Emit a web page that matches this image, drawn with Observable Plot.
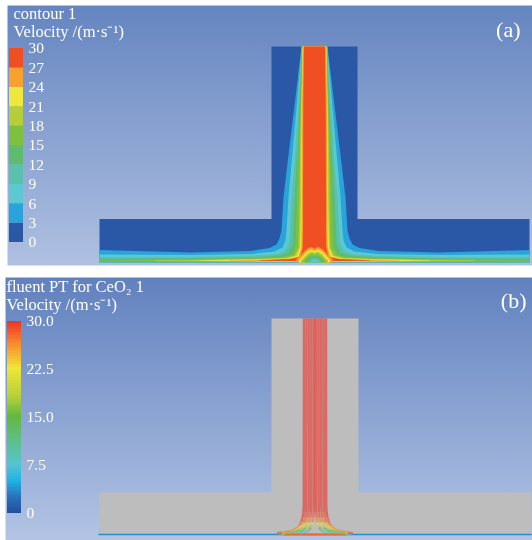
<!DOCTYPE html>
<html>
<head>
<meta charset="utf-8">
<script src="https://cdn.jsdelivr.net/npm/d3@7"></script>
<script src="https://cdn.jsdelivr.net/npm/@observablehq/plot@0.6"></script>
<style>
html,body{margin:0;padding:0;background:#fff;width:532px;height:540px;overflow:hidden}
.panel{position:relative;width:532px;height:270px}
.panel svg{position:absolute;left:0;top:0;background:transparent}
</style>
</head>
<body>
<div id="a" class="panel"></div>
<div id="b" class="panel"></div>
<script>
// Velocity scale
const contourTicks = [0,3,6,9,12,15,18,21,24,27,30];
const contourColors = ["#2b58a6","#29a3dc","#5cc8d0","#58c2ac","#5fbb6e","#7fc13f","#b5ce3a","#eee83c","#f9a02d","#f04e23"];
const gradientTicks = [0,7.5,15,22.5,30];
const gradientStops = [0,2.5,5,7.5,11,15,18,22.5,26,30];
const gradientColors = ["#22509f","#2a74bc","#1fb4e6","#55c4cf","#5dbf8e","#62b93e","#b4cf3a","#efe636","#f8932c","#ee2f24"];

// Fluid domain outlines: distance from jet axis, height above plate
const domainR = [-43,43,43,215,215,-215,-215,-43];
const domainH = [216,216,43.5,43.5,0,0,43.5,43.5];
const meshR = [-43.5,43.5,43.5,216,216,-216,-216,-43.5];
const meshH = [216,216,42,42,0,0,42,42];

// Contour band outlines [r, h]: from nozzle, along the wall jet upper side
const upper3  = [[13,216],[19,165],[23,132],[27,99],[31,65],[33,32],[35,24],[38,18],[45,14.5],[64,11.5],[124,10],[215,12.5]];
const upper6  = [[12.8,216],[17,165],[20,132],[23,99],[26,65],[28,32],[29,22],[32,15],[40,11],[64,8.5],[124,7.5],[215,8]];
const upper9  = [[12.6,216],[15.5,165],[18,132],[20,99],[23,65],[24.5,32],[25.5,20],[29,12],[36,8.5],[64,6.5],[124,5.5],[215,5.5]];
const upper12 = [[12.4,216],[14.5,165],[16,132],[18,99],[20,65],[21.5,32],[22,18],[26,10],[34,7],[64,5],[124,4],[215,3.5]];
const upper15 = [[12.2,216],[13.8,165],[15,132],[16,99],[17.5,65],[18.5,32],[19,16],[23,8],[32,5.5],[64,4],[124,3],[190,2.2],[215,2]];
const upper18 = [[12,216],[13.2,165],[14,132],[14.5,99],[15,65],[15.5,32],[16,15],[20,7],[30,4.5],[64,3.4],[124,2.6],[160,2.2]];
const upper21 = [[11.8,216],[12.8,165],[13,132],[13.2,99],[13.5,65],[14,32],[14.5,15],[18,6.5],[28,4],[64,3.2],[100,2.6],[115,2.2]];
const upper24 = [[11.5,216],[12.3,165],[12.5,132],[12.6,99],[12.8,65],[13,32],[13.2,15],[16,6],[26,3.8],[50,3],[85,2.4]];
const upper27 = [[10.5,216],[11.2,165],[11.3,132],[11.4,99],[11.5,65],[11.5,32],[11.8,15],[14,5.5],[24,3.5],[40,2.8],[55,2.2]];
// Lower side of each band, wall end back to the axis
const lower3  = [[215,0],[0,0]];
const lower6  = [[215,0],[0,0]];
const lower9  = [[215,0],[0,0]];
const lower12 = [[215,1],[124,0.6],[0,0.3]];
const lower15 = [[215,1.5],[124,1],[0,0.5]];
const lower18 = [[160,1.6],[64,0.9],[0,0.6]];
const lower21 = [[115,1.8],[30,1],[0,0.8]];
const lower24 = [[85,2],[30,1.2],[0,1]];
const lower27 = [[55,1.8],[30,1.5],[0,1.4]];

// Stagnation dome half outlines [r, h]
const dome24 = [[18,3.4],[15,5.5],[12,9],[8.5,12.8],[4.5,15.3],[2,15],[0,13.5]];
const dome21 = [[15.5,2.8],[12.5,5.5],[10,8.5],[6.5,11.5],[3.5,13],[1.5,12.5],[0,11]];
const dome18 = [[13.5,2.2],[10.5,5],[8,8],[5,10.3],[2.5,11],[0,9.5]];
const dome15 = [[12,1.6],[9,4.5],[6.5,7],[3.5,9],[1.5,9],[0,8]];
const dome12 = [[9.5,0.8],[7.5,3.5],[4.5,6],[1.5,6.8],[0,6.2]];
const dome9  = [[7,0],[5,2.8],[2.5,4.5],[0,4.4]];
const dome6  = [[4.5,0],[3,2],[0,3]];

// Streamlines in panel b: heights, radial position and speed per height
const streamH = [216,30,22,17,12,9,7,5,3,2,1.2];
const streamR1 = [11,11.2,11.6,12.5,14,15.5,17.5,20,25,30,38];
const streamV1 = [30,30,30,29,28,27,27,28,29,29,27];
const streamR2 = [8.5,8.8,9.2,10,11.5,13,15,18,23,27,33];
const streamV2 = [30,30,29,28,25,23,22,23,24,24,22];
const streamR3 = [6,6.2,6.6,7.5,9,10.5,12,15,20,24,30];
const streamV3 = [30,30,29,27,24,21,18,16,16,16,14];
const streamR4 = [3.5,3.7,4,4.7,6,7.5,9,11,15,19,26];
const streamV4 = [30,30,29,27,23,19,15,13,10,9,8];
const streamR5 = [1,1.1,1.3,1.7,2.4,3.2,4.2,5.5,8,10,15];
const streamV5 = [30,30,29,27,23,18,15,12,9,7,5];
const wallR = [-216,-60,-36,-32,-30,-20,-16,16,20,30,32,36,60,216];
const wallV = [3.5,3.5,7,10,28,28,10,10,28,28,10,7,3.5,3.5];

const serif = "'Liberation Serif', serif";
const pts = a => a.map(([r,h]) => ({r,h}));
const mirrored = (upper, lower) => {
  const right = [...upper, ...lower];
  const left = right.slice().reverse().map(([r,h]) => [-r,h]);
  return pts([...right, ...left]);
};
const gradient = (id, top, bottom) => () => {
  const defs = d3.create("svg:defs");
  const g = defs.append("linearGradient").attr("id", id).attr("x1",0).attr("y1",0).attr("x2",0).attr("y2",1);
  g.append("stop").attr("offset","0%").attr("stop-color",top);
  g.append("stop").attr("offset","100%").attr("stop-color",bottom);
  return defs.node();
};
const titleMark = (lines, dx, dys) => lines.map((t,i) => Plot.text([t], {
  text: d => d, frameAnchor: "top-left", textAnchor: "start", lineAnchor: "bottom",
  dx, dy: dys[i], fill: "#ffffff", fontFamily: serif, fontSize: 16.5, stroke: "none"
}));
const letterMark = (t, dx, dy) => Plot.text([t], {
  text: d => d, frameAnchor: "top-right", textAnchor: "end", lineAnchor: "middle",
  dx, dy, fill: "#ffffff", fontFamily: serif, fontSize: 22, stroke: "none"
});
const blur = {filter: "blur(0.45px)", background: "transparent"};
const outline = (R, H) => R.map((r,i) => ({r, h: H[i]}));

// Panel (a)
const contourBands = [
  [upper3,lower3,1],[upper6,lower6,2],[upper9,lower9,3],[upper12,lower12,4],[upper15,lower15,5],
  [upper18,lower18,6],[upper21,lower21,7],[upper24,lower24,8],[upper27,lower27,9]
];
const domes = [[dome24,8],[dome21,7],[dome18,6],[dome15,5],[dome12,4],[dome9,3],[dome6,2]];
const halfDome = d => { const left = d.slice().reverse().map(([r,h]) => [-r,h]); return pts([[d[0][0],0],...d,...left,[-d[0][0],0]]); };

const plotA = Plot.plot({
  width: 532, height: 270, marginLeft: 7, marginRight: 0, marginTop: 5, marginBottom: 5,
  style: blur,
  x: {domain: [-314,218], range: [0,532], axis: null},
  y: {domain: [-8,262], range: [270,0], axis: null},
  marks: [
    gradient("bgA", "#6585c0", "#afc0e1"),
    Plot.frame({fill: "url(#bgA)", stroke: "none"}),
    Plot.line(outline(domainR, domainH), {x:"r", y:"h", fill: contourColors[0], stroke:"none"}),
    ...contourBands.map(([u,l,c]) => Plot.line(mirrored(u,l), {x:"r", y:"h", fill: contourColors[c], stroke:"none"})),
    ...domes.map(([d,c]) => Plot.line(halfDome(d), {x:"r", y:"h", fill: contourColors[c], stroke:"none"})),
    ...titleMark(["contour 1","Velocity /(m·s⁻¹)"], 6, [13,31]),
    letterMark("(a)", -12, 24)
  ]
});
document.getElementById("a").append(plotA);

const contourLevels = contourColors.map((c,i) => ({lo: contourTicks[i], hi: contourTicks[i+1], c}));
const legendAxis = (ticks, fmt) => Plot.axisY({anchor:"right", ticks, tickSize:0, tickPadding:5, tickFormat:fmt, label:null, fill:"#ffffff", fontFamily:serif, fontSize:15.5, stroke:"none"});
const legendA = Plot.plot({
  width: 70, height: 270, marginLeft: 9, marginRight: 47, marginTop: 0, marginBottom: 0,
  style: {...blur, overflow:"visible"},
  x: {domain:[0,1], axis:null},
  y: {domain:[0,30], range:[242,48], axis:null},
  marks: [
    Plot.rect(contourLevels, {x1:()=>0, x2:()=>1, y1:"lo", y2:"hi", fill:"c"}),
    legendAxis(contourTicks, d => String(d))
  ]
});
document.getElementById("a").append(legendA);

// Panel (b)
const colorB = {type:"linear", domain: gradientStops, range: gradientColors, interpolate:"rgb"};
const streamTable = [[streamR1,streamV1],[streamR2,streamV2],[streamR3,streamV3],[streamR4,streamV4],[streamR5,streamV5]]
  .flatMap(([R,V],k) => [1,-1].flatMap(s => streamH.map((h,i) => ({id:`${k}${s}`, r:s*R[i], h, v:V[i]}))));
const wallPts = wallR.map((r,i) => ({r, h:0, v:wallV[i]}));

const plotB = Plot.plot({
  width: 532, height: 270, marginLeft: 5, marginRight: 0, marginTop: 7, marginBottom: 0,
  style: blur,
  color: colorB,
  x: {domain: [-314.5,217.5], range: [0,532], axis: null},
  y: {domain: [-6,264], range: [270,0], axis: null},
  marks: [
    gradient("bgB", "#6181be", "#b3c4e4"),
    Plot.frame({fill: "url(#bgB)", stroke: "none"}),
    Plot.line(outline(meshR, meshH), {x:"r", y:"h", fill:"#bdbdbd", stroke:"none"}),
    Plot.line(wallPts, {x:"r", y:"h", stroke:"v", strokeWidth:1.6}),
    Plot.line(streamTable, {x:"r", y:"h", z:"id", stroke:"v", strokeWidth:2.4, strokeOpacity:0.6, strokeLinecap:"butt"}),
    ...titleMark(["fluent PT for CeO₂ 1","Velocity /(m·s⁻¹)"], 1, [14,32.5]),
    letterMark("(b)", -6, 23)
  ]
});
document.getElementById("b").append(plotB);

const gradientLevels = d3.range(0,30,0.25).map(v => ({v, hi: Math.min(30, v+0.6)}));
const legendB = Plot.plot({
  width: 70, height: 270, marginLeft: 7, marginRight: 49, marginTop: 0, marginBottom: 0,
  style: {...blur, overflow:"visible"},
  color: colorB,
  x: {domain:[0,1], axis:null},
  y: {domain:[0,30], range:[243,51], axis:null},
  marks: [
    Plot.rect(gradientLevels, {x1:()=>0, x2:()=>1, y1:"v", y2:"hi", fill:"v", shapeRendering:"crispEdges"}),
    legendAxis(gradientTicks, d => d === 0 ? "0" : d.toFixed(1))
  ]
});
document.getElementById("b").append(legendB);
</script>
</body>
</html>
